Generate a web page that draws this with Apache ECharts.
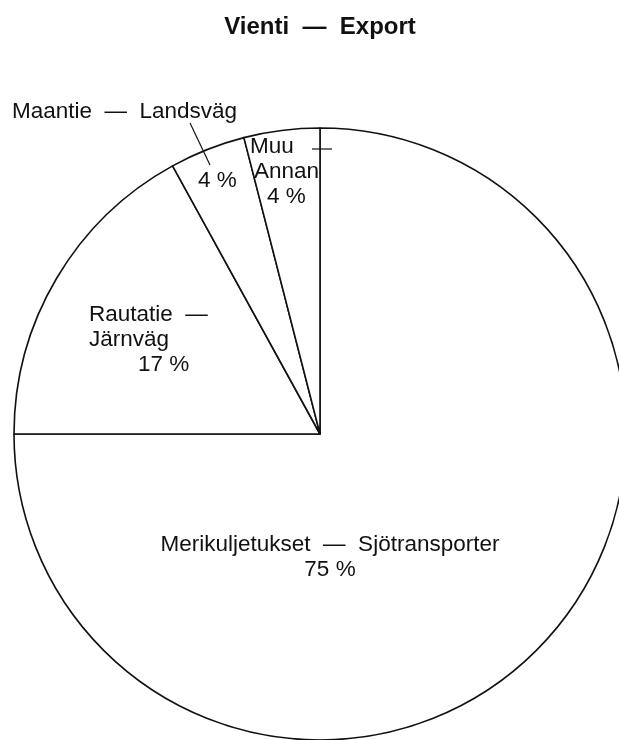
<!DOCTYPE html>
<html>
<head>
<meta charset="utf-8">
<title>Vienti — Export</title>
<style>
  html, body { margin: 0; padding: 0; background: #fff; }
  #chart { width: 619px; height: 740px; }
</style>
<script src="https://cdn.jsdelivr.net/npm/echarts@6/dist/echarts.min.js"></script>
</head>
<body>
<div id="chart"></div>
<script>
const TITLE = "Vienti  —  Export";
const names = ["Merikuljetukset  —  Sjötransporter", "Rautatie  —\nJärnväg", "Maantie  —  Landsväg", "Muu\nAnnan"];
const shares = [75, 17, 4, 4];

const FONT = '"Liberation Sans", Arial, sans-serif';
const INK = "#111";
const SIZE = 22.5;

// where each label block sits, and how far each of its lines is indented
const labelSpots = [
  { x: 330, y: 557, align: "center", indent: [0, 0] },
  { x: 89, y: 340, align: "left", indent: [0, 0, 49] },
  { x: 198, y: 181, align: "left", indent: [0] },
  { x: 250, y: 172, align: "left", indent: [0, 4, 17] },
];
// the road slice carries its name outside, with a leader line
const outsideName = 2;

const chart = echarts.init(document.getElementById("chart"));

function labelText(i) {
  const lines = i === outsideName ? [] : names[i].split("\n");
  lines.push(`${shares[i]} %`);
  return lines.map((t, k) => `{p${labelSpots[i].indent[k] || 0}|${t}}`).join("\n");
}

// rich styles for every indent that is used
const rich = {};
labelSpots.forEach((s) => s.indent.forEach((n) => {
  rich[`p${n}`] = {
    fontFamily: FONT, fontSize: SIZE, color: INK, lineHeight: 25,
    padding: [0, 0, 0, n],
  };
}));

chart.setOption({
  animation: false,
  backgroundColor: "#fff",
  title: {
    text: TITLE,
    left: 320,
    top: 15,
    padding: 0,
    textAlign: "center",
    textStyle: { fontFamily: FONT, fontSize: 24, fontWeight: "bold", color: INK },
  },
  series: [
    {
      type: "pie",
      center: [320, 434],
      radius: 306,
      startAngle: 90,
      clockwise: true,
      avoidLabelOverlap: false,
      silent: true,
      itemStyle: { color: "#fff", borderColor: INK, borderWidth: 1.6 },
      label: {
        show: true,
        position: "inside",
        formatter: (p) => labelText(p.dataIndex),
        rich,
      },
      labelLine: { show: false },
      labelLayout: (p) => {
        const s = labelSpots[p.dataIndex];
        return { x: s.x, y: s.y, align: s.align, verticalAlign: "middle" };
      },
      data: names.map((n, i) => ({ name: n, value: shares[i] })),
    },
  ],
  graphic: [
    {
      type: "text",
      left: 12,
      top: 100,
      z: 10,
      style: { text: names[outsideName], fontFamily: FONT, fontSize: SIZE, fill: INK },
    },
    {
      type: "line",
      z: 10,
      shape: { x1: 190, y1: 123, x2: 210, y2: 165 },
      style: { stroke: INK, lineWidth: 1.2 },
    },
    {
      type: "line",
      z: 10,
      shape: { x1: 312, y1: 149, x2: 332, y2: 149 },
      style: { stroke: INK, lineWidth: 1.2 },
    },
  ],
});

window.addEventListener("resize", () => chart.resize());
</script>
</body>
</html>
